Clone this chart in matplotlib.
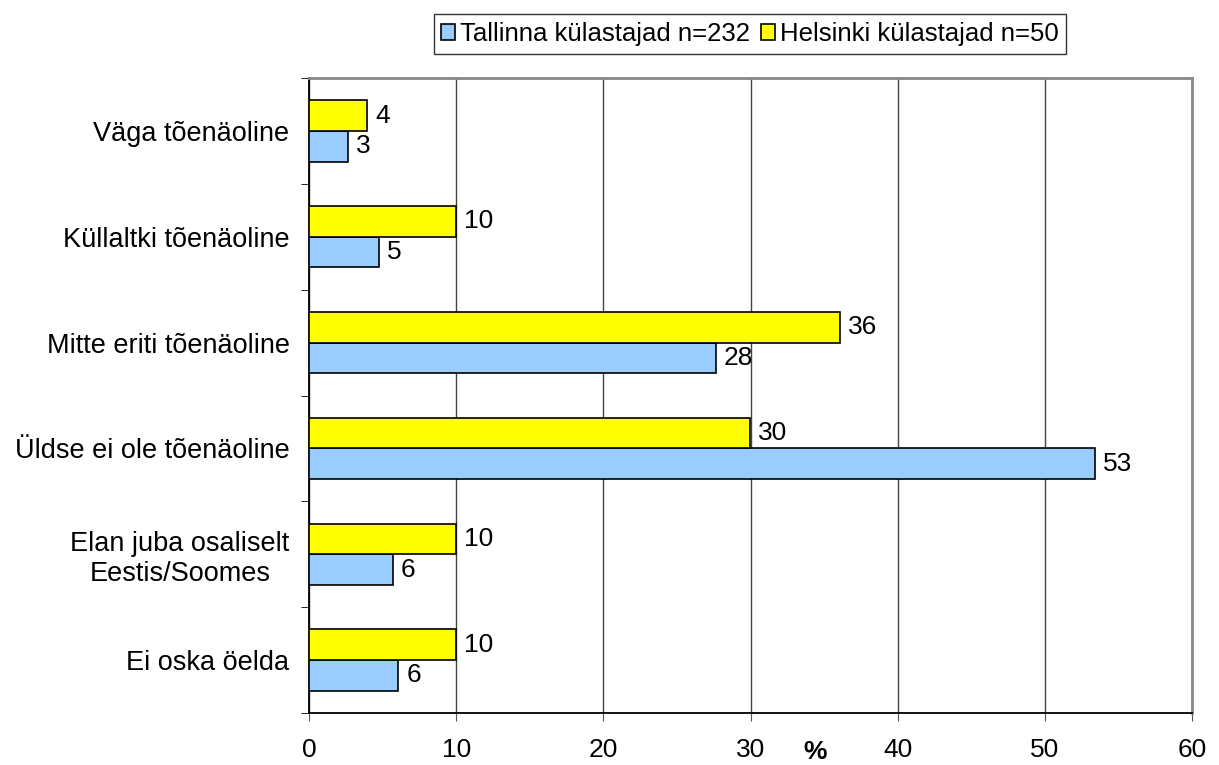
import matplotlib
matplotlib.use("Agg")
import matplotlib.pyplot as plt
import numpy as np

plt.rcParams['font.family'] = ['Liberation Sans', 'DejaVu Sans']

categories = ["Väga tõenäoline", "Küllaltki tõenäoline", "Mitte eriti tõenäoline",
              "Üldse ei ole tõenäoline", "Elan juba osaliselt\nEestis/Soomes", "Ei oska öelda"]
tallinn = [2.65, 4.75, 27.65, 53.4, 5.7, 6.05]
helsinki = [3.95, 10.0, 36.05, 29.95, 10.0, 10.0]
tallinn_label = "Tallinna külastajad n=232"
helsinki_label = "Helsinki külastajad n=50"
xticks = [0, 10, 20, 30, 40, 50, 60]

fig = plt.figure(figsize=(12.19, 7.65), dpi=100)
ax = fig.add_axes([309 / 1219, 1 - 713 / 765, (1192 - 309) / 1219, (713 - 78) / 765])

y = np.arange(len(categories))
h = 0.29
b1 = ax.barh(y + h / 2, tallinn, height=h, color="#99ccff", edgecolor="black", linewidth=1.2,
             label=tallinn_label, zorder=3)
b2 = ax.barh(y - h / 2, helsinki, height=h, color="#ffff00", edgecolor="black", linewidth=1.2,
             label=helsinki_label, zorder=3)

for bars, vals in ((b1, tallinn), (b2, helsinki)):
    for bar, v in zip(bars, vals):
        ax.text(bar.get_width() + 0.55, bar.get_y() + bar.get_height() / 2, f"{round(v):d}",
                va="center", ha="left", fontsize=19)

ax.set_ylim(len(categories) - 0.5, -0.5)
ax.set_xlim(0, 60)
ax.set_xticks(xticks)
ax.set_xticklabels([str(t) for t in xticks], fontsize=19)
ax.tick_params(axis='x', length=6, pad=12, color="#555555")

ax.set_yticks(y)
ax.set_yticklabels(categories, fontsize=19.5, ha="right", multialignment="center")
ax.set_yticks(np.arange(-0.5, len(categories)), minor=True)
ax.tick_params(axis='y', which='major', length=0, pad=14)
ax.tick_params(axis='y', which='minor', length=6, color="black")

ax.grid(axis='x', color="#444444", linewidth=1, zorder=0)
ax.spines['left'].set_color("black")
ax.spines['bottom'].set_color("black")
ax.spines['left'].set_linewidth(1.3)
ax.spines['bottom'].set_linewidth(1.3)
ax.spines['top'].set_color("#888888")
ax.spines['right'].set_color("#888888")
ax.spines['top'].set_linewidth(2)
ax.spines['right'].set_linewidth(2)

fig.text(815 / 1219, 1 - 752 / 765, "%", fontsize=19, fontweight="bold", ha="center", va="center")

leg = fig.legend(handles=[b1, b2], loc="center", bbox_to_anchor=(750 / 1219, 1 - 34 / 765),
                 ncol=2, fontsize=18.5, frameon=True, fancybox=False, edgecolor="black",
                 handlelength=0.55, handleheight=0.55, handletextpad=0.2, columnspacing=0.4,
                 borderpad=0.3)
leg.get_frame().set_linewidth(1)

fig.savefig("out.png", dpi=100)
